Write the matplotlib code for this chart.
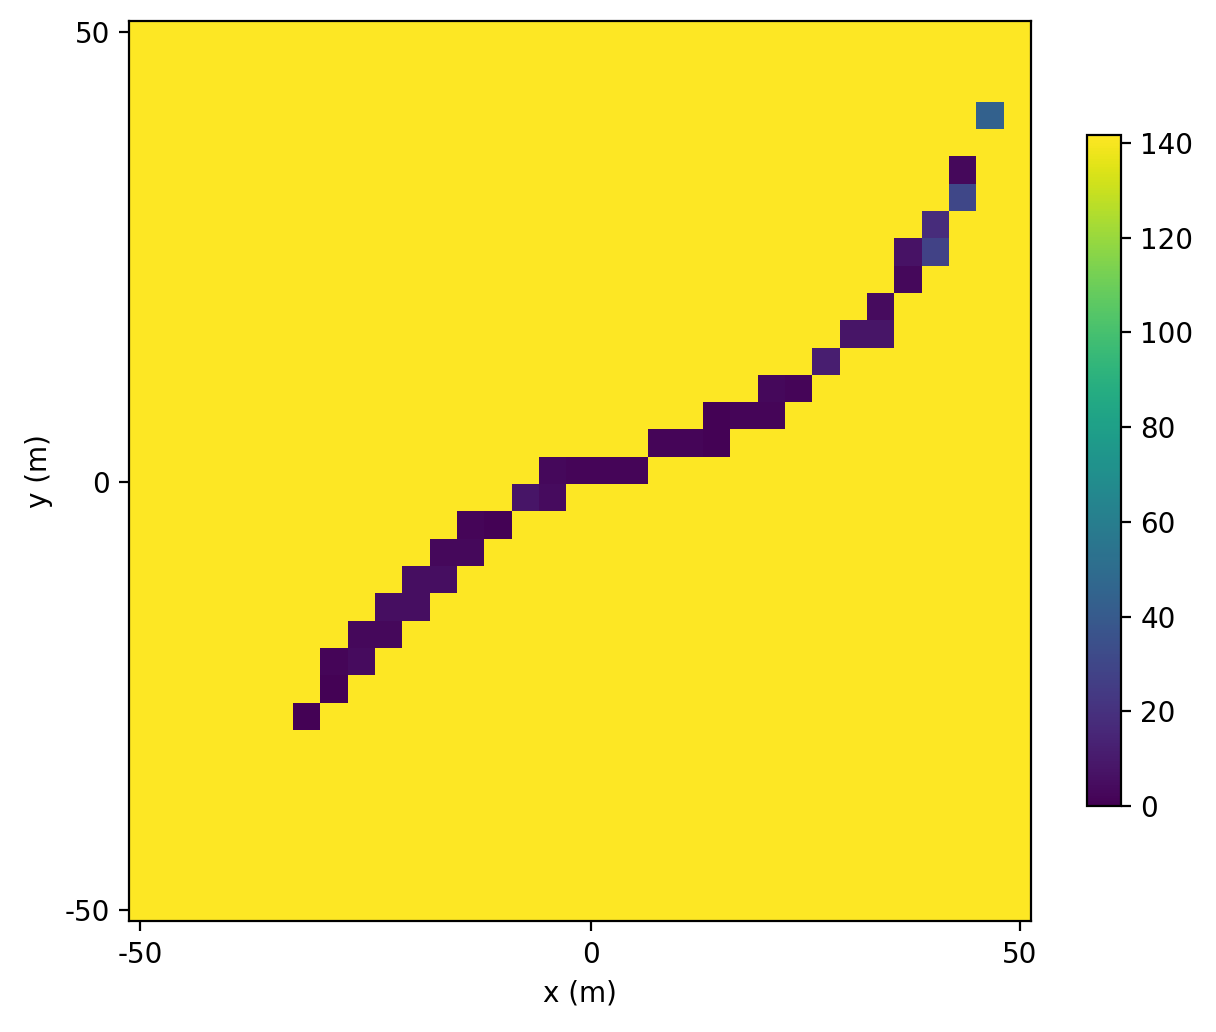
import numpy as np
import matplotlib
matplotlib.use("Agg")
import matplotlib.pyplot as plt

# grid size and background level
n_cells = 33
background = 141.6

# non-background cells: row index from top, column index from left, value
rows = [25, 24, 23, 23, 22, 22, 21, 21, 20, 20, 19, 19, 18, 18, 17, 17,
        16, 16, 16, 16, 15, 15, 15, 14, 14, 14, 13, 13, 12, 11, 11, 10,
        9, 8, 8, 7, 6, 5, 3]
cols = [6, 7, 7, 8, 8, 9, 9, 10, 10, 11, 11, 12, 12, 13, 14, 15,
        15, 16, 17, 18, 19, 20, 21, 21, 22, 23, 23, 24, 25, 26, 27, 27,
        28, 28, 29, 29, 30, 30, 31]
vals = [1, 1, 2, 4, 3, 3, 5, 5, 5, 5, 3, 3, 2, 1, 8, 4,
        3, 2, 2, 2, 2, 2, 1, 1, 2, 2, 3, 2, 12, 8, 8, 4,
        3, 7, 28, 18, 30, 3, 44]

tick_pos = [-0.11, 16.4, 32.1]
x_labels = ["-50", "0", "50"]
y_labels = ["50", "0", "-50"]
cbar_ticks = [0, 20, 40, 60, 80, 100, 120, 140]

grid = np.full((n_cells, n_cells), background)
for r, c, v in zip(rows, cols, vals):
    grid[r, c] = v

fig = plt.figure(figsize=(6.08, 5.16), dpi=200)
ax = fig.add_axes([0.1063, 0.1073, 0.7413, 0.8724])
cax = fig.add_axes([0.8937, 0.219, 0.028, 0.650])

im = ax.imshow(grid, cmap="viridis", vmin=0, vmax=background,
               interpolation="nearest", aspect="auto")
ax.set_xticks(tick_pos)
ax.set_xticklabels(x_labels)
ax.set_yticks(tick_pos)
ax.set_yticklabels(y_labels)
ax.set_xlabel("x (m)")
ax.set_ylabel("y (m)")

cb = fig.colorbar(im, cax=cax)
cb.set_ticks(cbar_ticks)

fig.savefig("out.png", dpi=200)
